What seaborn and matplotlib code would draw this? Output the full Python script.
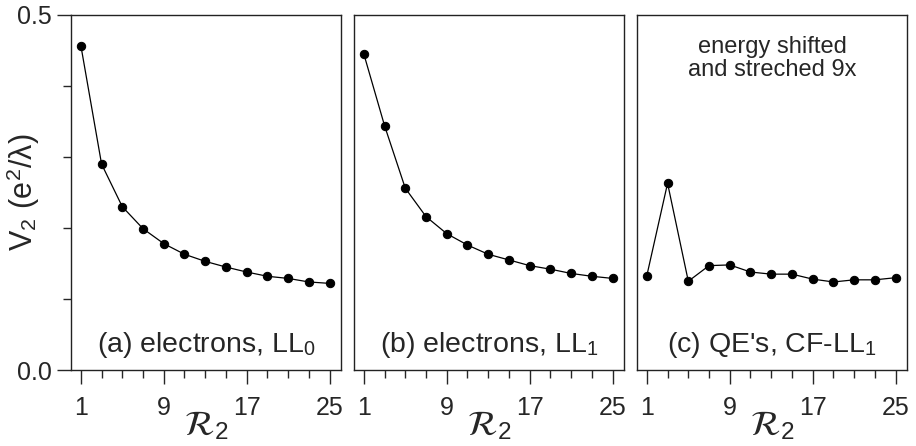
import matplotlib
matplotlib.use("Agg")
import matplotlib.pyplot as plt
import seaborn as sns
import pandas as pd

# data
r2 = [1, 3, 5, 7, 9, 11, 13, 15, 17, 19, 21, 23, 25]
v2_ll0 = [0.457, 0.290, 0.230, 0.199, 0.178, 0.163, 0.153, 0.145, 0.138, 0.132, 0.129, 0.124, 0.122]
v2_ll1 = [0.445, 0.344, 0.256, 0.216, 0.192, 0.176, 0.163, 0.155, 0.147, 0.142, 0.136, 0.132, 0.129]
v2_qe = [0.133, 0.263, 0.125, 0.147, 0.148, 0.138, 0.135, 0.135, 0.128, 0.124, 0.127, 0.127, 0.130]
panel_labels = ["(a) electrons, LL$_\\mathregular{0}$",
                "(b) electrons, LL$_\\mathregular{1}$",
                "(c) QE's, CF-LL$_\\mathregular{1}$"]
note_text = "energy shifted\nand streched 9x"
x_major = [1, 9, 17, 25]
x_minor = [3, 5, 7, 11, 13, 15, 19, 21, 23]
y_major = [0.0, 0.5]
y_minor = [0.1, 0.2, 0.3, 0.4]

sns.set_style("ticks")
plt.rcParams["font.family"] = ["Liberation Sans", "DejaVu Sans"]
plt.rcParams["mathtext.fontset"] = "stix"

fig = plt.figure(figsize=(9.16, 4.46), dpi=100)

W, H = 916, 446
lefts = [71, 354, 637]
ax_w = 270
top, bottom = 15, 370

series = [v2_ll0, v2_ll1, v2_qe]
for i, vals in enumerate(series):
    ax = fig.add_axes([lefts[i] / W, 1 - bottom / H, ax_w / W, (bottom - top) / H])
    df = pd.DataFrame({"r2": r2, "v2": vals})
    sns.lineplot(data=df, x="r2", y="v2", ax=ax, color="black", marker="o",
                 markersize=6, markeredgecolor="black", linewidth=0.9)
    ax.set_xlim(0.05, 26.1)
    ax.set_ylim(0, 0.5)
    for s in ax.spines.values():
        s.set_linewidth(1.0)
        s.set_color("#222222")
        s.set_visible(True)
    ax.set_xticks(x_major)
    ax.set_xticks(x_minor, minor=True)
    ax.set_xticklabels([str(v) for v in x_major])
    ax.tick_params(axis="x", which="major", length=10, width=1, labelsize=18, pad=9)
    ax.tick_params(axis="x", which="minor", length=5.5, width=1)
    ax.set_xlabel("$\\mathcal{R}_\\mathregular{2}$", fontsize=25, labelpad=-8)
    ax.set_ylabel("")
    if i == 0:
        ax.set_yticks(y_major)
        ax.set_yticks(y_minor, minor=True)
        ax.set_yticklabels(["%.1f" % v for v in y_major])
        ax.tick_params(axis="y", which="major", length=10, width=1, labelsize=18, pad=4)
        ax.tick_params(axis="y", which="minor", length=5.5, width=1)
        ax.set_ylabel("V$_\\mathregular{2}$ (e$^\\mathregular{2}$/λ)", fontsize=22)
        ax.yaxis.set_label_coords(-0.108, 0.5)
    else:
        ax.set_yticks([])
    ax.text(0.5, 0.028, panel_labels[i], transform=ax.transAxes, ha="center",
            va="bottom", fontsize=20.5)

ax.text(0.5, 0.94, note_text, transform=ax.transAxes, ha="center", va="top",
        fontsize=17, linespacing=1.05)

fig.savefig("out.png", dpi=100)
